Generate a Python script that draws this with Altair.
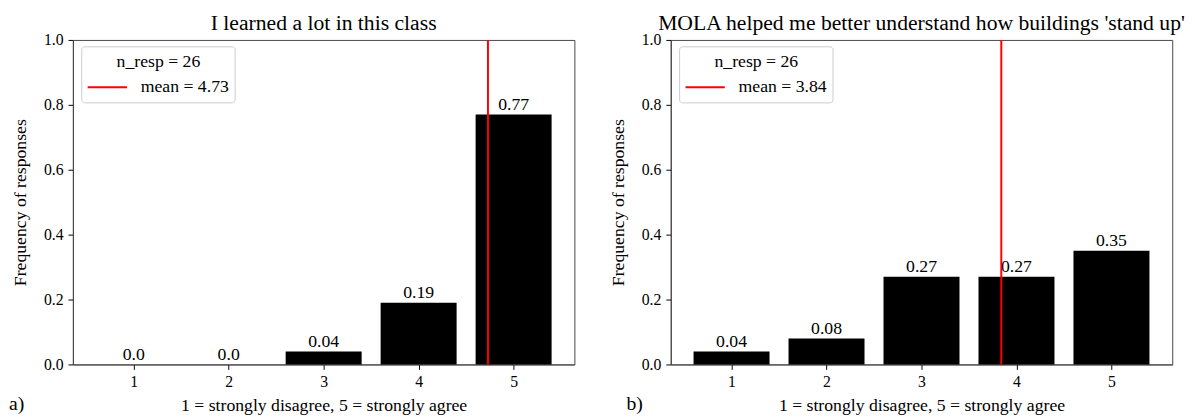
import altair as alt
import pandas as pd

# ---- data ----
categories = [1, 2, 3, 4, 5]
freq_a = [0.0, 0.0, 0.04, 0.19, 0.77]
freq_b = [0.04, 0.08, 0.27, 0.27, 0.35]
labels_a = ["0.0", "0.0", "0.04", "0.19", "0.77"]
labels_b = ["0.04", "0.08", "0.27", "0.27", "0.35"]
mean_a = 4.73
mean_b = 3.84
n_resp = 26
titles = ["I learned a lot in this class",
          "MOLA helped me better understand how buildings 'stand up'"]
panel_tags = ["a)", "b)"]
x_title = "1 = strongly disagree, 5 = strongly agree"
y_title = "Frequency of responses"
y_ticks = [0.0, 0.2, 0.4, 0.6, 0.8, 1.0]

FONT = "Liberation Serif"
W, H = 510, 330
FRAME = "#444444"


def panel(freqs, labels, mean, title, tag, tag_dx):
    df = pd.DataFrame({"cat": categories, "freq": freqs, "label": labels})
    info = pd.DataFrame({"mean": [mean],
                         "ntext": [f"n_resp = {n_resp}"],
                         "mtext": [f"mean = {mean}"],
                         "tag": [tag]})
    xscale = alt.Scale(domain=[0.36, 5.64], nice=False, zero=False)
    yscale = alt.Scale(domain=[0, 1], nice=False)

    bars = alt.Chart(df).transform_calculate(
        x0="datum.cat - 0.4", x1="datum.cat + 0.4"
    ).mark_bar(color="black").encode(
        x=alt.X("x0:Q", scale=xscale,
                axis=alt.Axis(values=categories, format="d", title=x_title,
                              grid=False, tickSize=5, labelPadding=4,
                              titlePadding=8)),
        x2="x1:Q",
        y=alt.Y("freq:Q", scale=yscale,
                axis=alt.Axis(values=y_ticks, format=".1f", title=y_title,
                              grid=False, tickSize=5, labelPadding=5,
                              titlePadding=14)),
        y2=alt.datum(0),
    )

    texts = alt.Chart(df).mark_text(
        baseline="bottom", dy=-1, fontSize=18, font=FONT, color="black"
    ).encode(
        x=alt.X("cat:Q", scale=xscale),
        y=alt.Y("freq:Q", scale=yscale),
        text="label:N",
    )

    mean_rule = alt.Chart(info).mark_rule(color="red", strokeWidth=2).encode(
        x=alt.X("mean:Q", scale=xscale)
    )

    leg_box = alt.Chart(info).mark_rect(
        fill="white", stroke="#cccccc", strokeWidth=1, cornerRadius=3
    ).encode(x=alt.value(9), x2=alt.value(165), y=alt.value(7), y2=alt.value(64))

    leg_title = alt.Chart(info).mark_text(
        fontSize=18, font=FONT, align="center", baseline="middle", color="black"
    ).encode(x=alt.value(87), y=alt.value(23), text="ntext:N")

    leg_line = alt.Chart(info).mark_rule(color="red", strokeWidth=2).encode(
        x=alt.value(15), x2=alt.value(55), y=alt.value(48)
    )

    leg_label = alt.Chart(info).mark_text(
        fontSize=18, font=FONT, align="left", baseline="middle", color="black"
    ).encode(x=alt.value(69), y=alt.value(48), text="mtext:N")

    tag_text = alt.Chart(info).mark_text(
        fontSize=20, font=FONT, align="left", baseline="middle", color="black"
    ).encode(x=alt.value(tag_dx), y=alt.value(H + 40), text="tag:N")

    return alt.layer(
        bars, texts, mean_rule, leg_box, leg_title, leg_line, leg_label, tag_text
    ).properties(
        width=W, height=H,
        title=alt.TitleParams(title, fontSize=22, font=FONT,
                              fontWeight="normal", color="black",
                              anchor="middle", offset=-3),
    )


left = panel(freq_a, labels_a, mean_a, titles[0], panel_tags[0], -65)
right = panel(freq_b, labels_b, mean_b, titles[1], panel_tags[1], -45)

chart = alt.hconcat(left, right, spacing=34).properties(
    padding={"left": 0, "top": 0, "right": 0, "bottom": 0}
).configure_view(
    stroke=FRAME, strokeWidth=1
).configure_axis(
    labelFont=FONT, labelFontSize=16, labelColor="black",
    titleFont=FONT, titleFontSize=18, titleColor="black",
    titleFontWeight="normal",
    domainColor=FRAME, tickColor="black",
)

chart.save("out.html", embed_options={"renderer": "svg", "actions": False})
